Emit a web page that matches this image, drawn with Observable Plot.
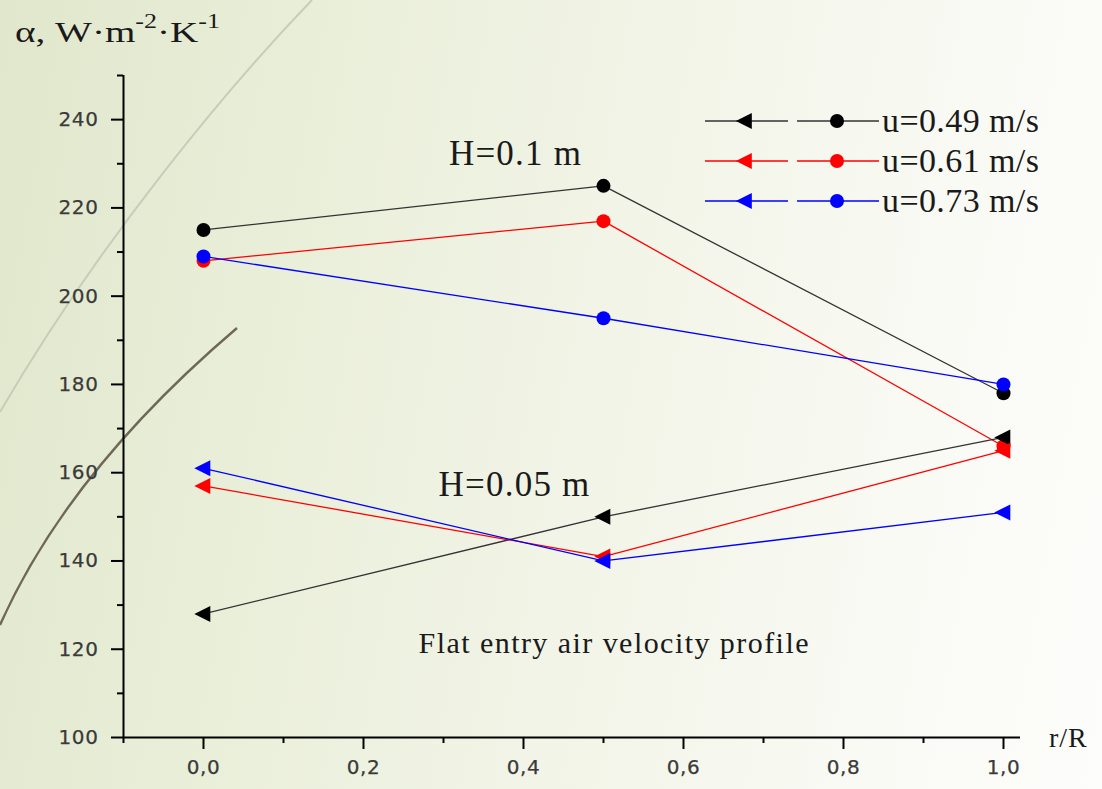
<!DOCTYPE html>
<html><head><meta charset="utf-8">
<script src="https://cdn.jsdelivr.net/npm/d3@7"></script>
<script src="https://cdn.jsdelivr.net/npm/@observablehq/plot@0.6"></script>
<style>
html,body{margin:0;padding:0;background:#fff;}
#wrap{position:relative;width:1102px;height:789px;overflow:hidden;
  background:linear-gradient(100deg,#e1e7cc 0%,#eaefda 28%,#f3f5e9 58%,#fafbf6 85%,#fdfdfb 100%);}
#wrap svg{position:absolute;left:0;top:0;}
</style></head><body><div id="wrap"></div>
<script>
// ---- data ----
const positions = [0, 0.5, 1.0];                       // r/R
const seriesLabels = ["u=0.49 m/s", "u=0.61 m/s", "u=0.73 m/s"];
const seriesColors = ["#000000", "#ff0000", "#0000ff"];
const heights = ["H=0.1 m", "H=0.05 m"];
// H = 0.1 m (circles)
const h010_u049 = [215, 225, 178];
const h010_u061 = [208, 217, 166];
const h010_u073 = [209, 195, 180];
// H = 0.05 m (left triangles)
const h005_u049 = [128, 150, 168];
const h005_u061 = [157, 141, 165];
const h005_u073 = [161, 140, 151];
const xTicks = [0, 0.2, 0.4, 0.6, 0.8, 1.0];
const xMinor = [-0.1, 0.1, 0.3, 0.5, 0.7, 0.9];
const yTicks = [100, 120, 140, 160, 180, 200, 220, 240];
const yMinor = [110, 130, 150, 170, 190, 210, 230, 250];
const annX = [0.39, 0.3888, 0.5125];
const annY = [232.2, 157.3, 121.4];
const annText = ["H=0.1 m", "H=0.05 m", "Flat entry air velocity profile"];

// ---- build tables ----
const groups = [
  {h: 0, sym: "circle", vals: [h010_u049, h010_u061, h010_u073]},
  {h: 1, sym: "tri", vals: [h005_u049, h005_u061, h005_u073]}
];
const rows = [];
groups.forEach(g => g.vals.forEach((vals, s) => vals.forEach((v, i) => rows.push({
  key: heights[g.h] + "|" + seriesLabels[s], sym: g.sym, x: positions[i], y: v,
  color: seriesColors[s], lineColor: s === 0 ? "#333333" : seriesColors[s]
}))));
const ann = annText.map((t, i) => ({x: annX[i], y: annY[i], text: t}));

const leftTri = {
  draw(ctx, size) {
    const r = Math.sqrt(size / Math.PI);
    ctx.moveTo(-r * 1.15, 0);
    ctx.lineTo(r * 0.85, -r);
    ctx.lineTo(r * 0.85, r);
    ctx.closePath();
  }
};

const wrap = document.getElementById("wrap");

// decorative background curves
const deco = d3.select(wrap).append("svg").attr("width", 1102).attr("height", 789);
deco.append("path").attr("d", "M312,0 C230,85 100,240 0,412")
  .attr("fill", "none").attr("stroke", "#c9ccb8").attr("stroke-width", 2);
deco.append("path").attr("d", "M237,328 C170,385 60,490 0,625")
  .attr("fill", "none").attr("stroke", "#6f6856").attr("stroke-width", 2.4);

const serif = "'Liberation Serif', 'Times New Roman', serif";
const sans = "'DejaVu Sans', Verdana, sans-serif";
const fmtX = d => d.toFixed(1).replace(".", ",");

const plot = Plot.plot({
  width: 1102, height: 789,
  marginLeft: 123, marginRight: 82, marginTop: 75, marginBottom: 52,
  style: {background: "transparent", fontFamily: sans, overflow: "visible"},
  x: {domain: [-0.1, 1.02125]},
  y: {domain: [100, 250]},
  color: {type: "identity"},
  marks: [
    Plot.line(rows, {x: "x", y: "y", z: "key", stroke: "lineColor", strokeWidth: 1.3}),
    Plot.dot(rows.filter(d => d.sym === "circle"), {x: "x", y: "y", r: 7, fill: "color", symbol: "circle"}),
    Plot.dot(rows.filter(d => d.sym === "tri"), {x: "x", y: "y", r: 8, fill: "color", symbol: leftTri}),
    Plot.axisX(xTicks, {tickSize: 12, stroke: "#000", strokeWidth: 2, text: null, label: null}),
    Plot.axisX(xMinor, {tickSize: 6, stroke: "#000", strokeWidth: 2, text: null, label: null}),
    Plot.axisY(yTicks, {tickSize: 12, stroke: "#000", strokeWidth: 2, text: null, label: null}),
    Plot.axisY(yMinor, {tickSize: 6, stroke: "#000", strokeWidth: 2, text: null, label: null}),
    Plot.text(xTicks, {x: d => d, text: fmtX, frameAnchor: "bottom", dy: 36,
      fontFamily: sans, fontSize: 20, fill: "#3a3a3a", stroke: "#3a3a3a", strokeWidth: 0.25}),
    Plot.text(yTicks, {y: d => d, text: d => String(d), frameAnchor: "left", dx: -25, textAnchor: "end",
      fontFamily: sans, fontSize: 20, fill: "#3a3a3a", stroke: "#3a3a3a", strokeWidth: 0.25}),
    Plot.ruleY([100], {strokeWidth: 2, stroke: "#000"}),
    Plot.ruleX([-0.1], {strokeWidth: 2, stroke: "#000"}),
    Plot.text(ann.slice(0, 2), {x: "x", y: "y", text: "text", fontFamily: serif, fontSize: 35, fill: "#1a1a1a"}),
    Plot.text(ann.slice(2), {x: "x", y: "y", text: "text", fontFamily: serif, fontSize: 30, fill: "#1a1a1a"})
  ]
});
wrap.appendChild(plot);
const sel = d3.select(plot);
sel.selectAll("text").filter(function(){ return this.textContent === annText[2]; })
  .attr("textLength", 390).attr("lengthAdjust", "spacing");
sel.selectAll("text").filter(function(){ return this.textContent === annText[0] || this.textContent === annText[1]; })
  .style("letter-spacing", "1.2px");
sel.selectAll("text").filter(function(){ return /^\d+(,\d)?$/.test(this.textContent); })
  .style("letter-spacing", "0.6px");

// overlay: axis titles and legend
const ov = d3.select(wrap).append("svg").attr("width", 1102).attr("height", 789)
  .style("font-family", serif).style("pointer-events", "none");
const title = ov.append("text").attr("x", 15).attr("y", 42).attr("font-size", 30).attr("fill", "#1a1a1a")
  .attr("textLength", 205).attr("lengthAdjust", "spacingAndGlyphs");
title.append("tspan").text("α, W·m");
title.append("tspan").attr("dy", -14).attr("font-size", 20).text("-2");
title.append("tspan").attr("dy", 14).text("·K");
title.append("tspan").attr("dy", -14).attr("font-size", 20).text("-1");
ov.append("text").attr("x", 1049).attr("y", 747).attr("font-size", 28).attr("fill", "#1a1a1a")
  .style("letter-spacing", "1px").text("r/R");

const lg = ov.append("g");
seriesLabels.forEach((lab, i) => {
  const y = 121 + i * 40;
  const lc = i === 0 ? "#333333" : seriesColors[i];
  const g = lg.append("g").attr("transform", `translate(0,${y})`);
  g.append("line").attr("x1", 705).attr("x2", 788).attr("stroke", lc).attr("stroke-width", 1.5);
  g.append("line").attr("x1", 797).attr("x2", 879).attr("stroke", lc).attr("stroke-width", 1.5);
  g.append("path").attr("transform", "translate(745,0)").attr("fill", seriesColors[i])
    .attr("d", d3.symbol(leftTri, Math.PI * 64)());
  g.append("circle").attr("cx", 837).attr("r", 7).attr("fill", seriesColors[i]);
  g.append("text").attr("x", 882).attr("y", 11).attr("font-size", 34).attr("fill", "#1a1a1a")
    .style("letter-spacing", "0.4px").text(lab);
});
</script></body></html>
